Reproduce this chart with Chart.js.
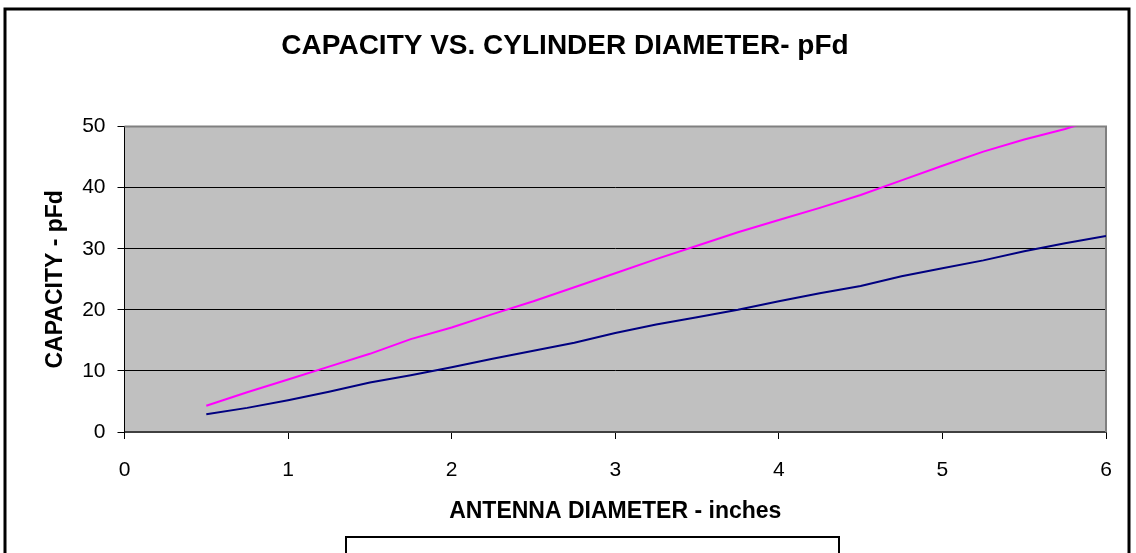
<!DOCTYPE html>
<html>
<head>
<meta charset="utf-8">
<script src="https://cdn.jsdelivr.net/npm/chart.js@4"></script>
<style>
  html, body { margin: 0; padding: 0; background: #fff; }
  #wrap { width: 1136px; height: 553px; }
</style>
</head>
<body>
<div id="wrap"><canvas id="capChart" width="1136" height="553"></canvas></div>
<script>
// ===== DATA =====
const diameters = [0.5, 0.75, 1, 1.25, 1.5, 1.75, 2, 2.25, 2.5, 2.75, 3, 3.25,
                   3.5, 3.75, 4, 4.25, 4.5, 4.75, 5, 5.25, 5.5, 5.75, 6];
const series1 = [2.9, 3.95, 5.2, 6.6, 8.1, 9.3, 10.6, 12.0, 13.3, 14.6, 16.2, 17.6,
                 18.8, 20.0, 21.4, 22.7, 23.9, 25.5, 26.8, 28.1, 29.6, 30.9, 32.1];
const series2 = [4.3, 6.5, 8.6, 10.7, 12.8, 15.2, 17.1, 19.3, 21.4, 23.7, 26.0, 28.3,
                 30.5, 32.7, 34.7, 36.7, 38.8, 41.2, 43.6, 45.9, 47.9, 49.6, 51.8];
const xTicks = [0, 1, 2, 3, 4, 5, 6];
const yTicks = [0, 10, 20, 30, 40, 50];

const FONT = "'Liberation Sans', Arial, sans-serif";

const toPoints = vals => diameters.map((d, i) => ({ x: d, y: vals[i] }));

// plot background, plot frame, outer border and the (empty) legend box
const excelFrame = {
  id: 'excelFrame',
  beforeDraw(chart) {
    const { ctx, chartArea: a } = chart;
    ctx.save();
    ctx.fillStyle = '#fff';
    ctx.fillRect(0, 0, chart.width, chart.height);
    ctx.strokeStyle = '#000';
    ctx.lineWidth = 3;
    ctx.strokeRect(5, 9, 1124, 600);
    ctx.fillStyle = '#c0c0c0';
    ctx.fillRect(a.left, a.top, a.right - a.left, a.bottom - a.top);
    ctx.restore();
  },
  beforeDatasetsDraw(chart) {
    const { ctx, chartArea: a } = chart;
    ctx.save();
    ctx.strokeStyle = '#808080';
    ctx.lineWidth = 2;
    ctx.beginPath();
    ctx.moveTo(a.left, a.top);
    ctx.lineTo(a.right, a.top);
    ctx.lineTo(a.right, a.bottom);
    ctx.stroke();
    ctx.restore();
  },
  afterDraw(chart) {
    const { ctx } = chart;
    ctx.save();
    ctx.fillStyle = '#fff';
    ctx.strokeStyle = '#000';
    ctx.lineWidth = 2;
    ctx.fillRect(346, 537, 493, 40);
    ctx.strokeRect(346, 537, 493, 40);
    ctx.restore();
  }
};

new Chart(document.getElementById('capChart'), {
  type: 'line',
  data: {
    datasets: [
      {
        label: 'Series1',
        data: toPoints(series1),
        borderColor: '#000080',
        borderWidth: 2,
        pointRadius: 0,
        tension: 0,
      },
      {
        label: 'Series2',
        data: toPoints(series2),
        borderColor: '#ff00ff',
        borderWidth: 2,
        pointRadius: 0,
        tension: 0,
      }
    ]
  },
  options: {
    responsive: false,
    animation: false,
    layout: { padding: { left: 8, right: 14, top: 0, bottom: 0 } },
    plugins: {
      legend: { display: false },
      tooltip: { enabled: false },
      title: {
        display: true,
        text: 'CAPACITY VS. CYLINDER DIAMETER- pFd',
        color: '#000',
        font: { family: FONT, size: 28, weight: 'bold' },
        padding: { top: 29, bottom: 64 }
      }
    },
    scales: {
      x: {
        type: 'linear',
        min: 0, max: 6,
        afterBuildTicks: s => { s.ticks = xTicks.map(v => ({ value: v })); },
        afterFit: s => { s.height = 121; },
        grid: { drawOnChartArea: false, drawTicks: true, tickLength: 7, color: '#000', lineWidth: 1 },
        border: { display: true, color: '#404040', width: 2 },
        ticks: { color: '#000', padding: 19, font: { family: FONT, size: 21 }, maxRotation: 0 },
        title: {
          display: true,
          text: 'ANTENNA DIAMETER - inches',
          color: '#000',
          font: { family: FONT, size: 23, weight: 'bold' },
          padding: { top: 0, bottom: 28 }
        }
      },
      y: {
        min: 0, max: 50,
        afterBuildTicks: s => { s.ticks = yTicks.map(v => ({ value: v })); },
        afterFit: s => { s.width = 116.5; },
        grid: { drawOnChartArea: true, drawTicks: true, tickLength: 7, color: '#000', lineWidth: 1 },
        border: { display: true, color: '#000', width: 1 },
        ticks: { color: '#000', padding: 12, font: { family: FONT, size: 21 } },
        title: {
          display: true,
          text: 'CAPACITY - pFd',
          color: '#000',
          font: { family: FONT, size: 23, weight: 'bold' },
          padding: { top: 34, bottom: 0 }
        }
      },
      // empty spacer on the right so the plot ends where the reference's does
      spacer: {
        position: 'right',
        grid: { display: false },
        border: { display: false },
        ticks: { display: false },
        afterFit: s => { s.width = 16; }
      }
    }
  },
  plugins: [excelFrame]
});
</script>
</body>
</html>
